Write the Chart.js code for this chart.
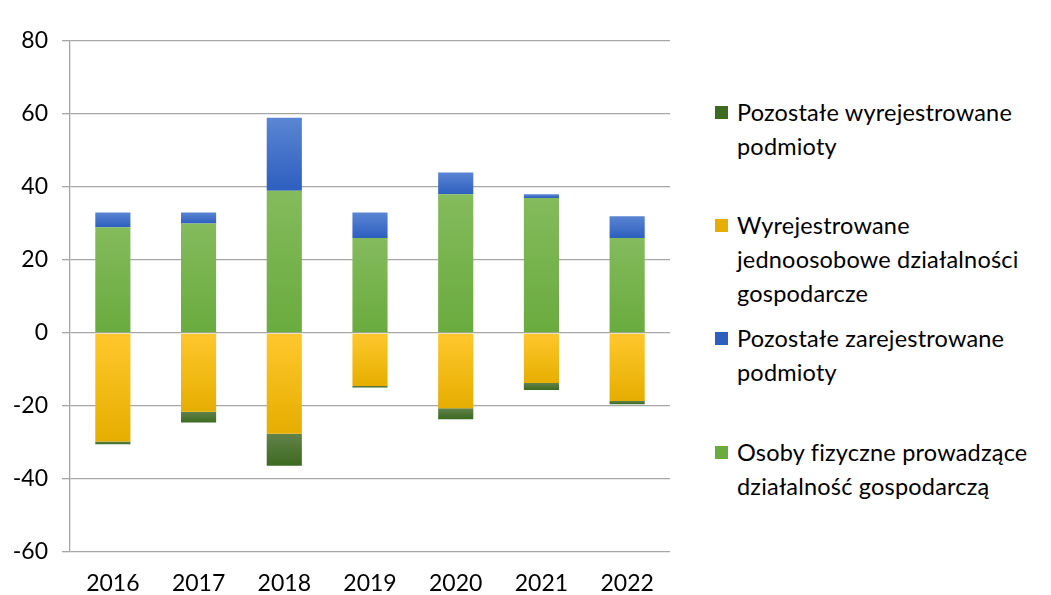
<!DOCTYPE html>
<html lang="pl">
<head>
    <meta charset="UTF-8">
    <title>Podmioty zarejestrowane i wyrejestrowane</title>
    <script src="https://cdn.jsdelivr.net/npm/chart.js"></script>
    <style>
        body {
            margin: 0;
            width: 1051px;
            height: 595px;
            background: #fff;
            font-family: Lato, "Noto Sans", sans-serif;
            position: relative;
            overflow: hidden;
        }
        .chart-box {
            position: absolute;
            left: 0;
            top: 0;
            width: 680px;
            height: 595px;
        }
        #legend .item {
            position: absolute;
            left: 715px;
            font-size: 23.5px;
            line-height: 34px;
            letter-spacing: 0.2px;
            color: #000;
            white-space: nowrap;
        }
        #legend .box {
            position: absolute;
            left: 0;
            top: 11px;
            width: 13px;
            height: 13px;
        }
        #legend .txt {
            margin-left: 22px;
        }
    </style>
</head>
<body>
    <div class="chart-box">
        <canvas id="myChart"></canvas>
    </div>
    <div id="legend"></div>

    <script>
        // data
        const years = ['2016', '2017', '2018', '2019', '2020', '2021', '2022'];
        const osobyFizyczne = [29, 30, 39, 26, 38, 37, 26];
        const pozostaleZarejestrowane = [4, 3, 20, 7, 6, 1, 6];
        const wyrejJednoosobowe = [-29.7, -21.6, -27.6, -14.5, -20.6, -13.7, -18.6];
        const pozostaleWyrejestrowane = [-0.8, -2.9, -8.8, -0.4, -3, -1.9, -0.9];
        const yTicks = [-60, -40, -20, 0, 20, 40, 60, 80];

        const seriesNames = [
            'Osoby fizyczne prowadzące działalność gospodarczą',
            'Pozostałe zarejestrowane podmioty',
            'Wyrejestrowane jednoosobowe działalności gospodarcze',
            'Pozostałe wyrejestrowane podmioty'
        ];
        // top colour, bottom colour of each bar's gradient
        const grads = [
            ['#84bb5c', '#6aab3e'],
            ['#5b85d4', '#2d5fbf'],
            ['#ffc72c', '#e6ae00'],
            ['#62824a', '#3c6a20']
        ];

        // legend text broken the same way as in the picture
        const legendLines = [
            ['Pozostałe wyrejestrowane', 'podmioty'],
            ['Wyrejestrowane', 'jednoosobowe działalności', 'gospodarcze'],
            ['Pozostałe zarejestrowane', 'podmioty'],
            ['Osoby fizyczne prowadzące', 'działalność gospodarczą']
        ];
        const legendOrder = [3, 2, 1, 0];
        const legendTops = [95, 208, 321, 435];

        // per-bar vertical gradient, set once the bars have their pixel positions
        const barGradient = {
            id: 'barGradient',
            afterDatasetsUpdate(chart) {
                const ctx = chart.ctx;
                chart.data.datasets.forEach((ds, di) => {
                    const meta = chart.getDatasetMeta(di);
                    meta.data.forEach(el => {
                        const top = Math.min(el.y, el.base);
                        const bot = Math.max(el.y, el.base);
                        const g = ctx.createLinearGradient(0, top, 0, bot);
                        g.addColorStop(0, grads[di][0]);
                        g.addColorStop(1, grads[di][1]);
                        el.options = Object.assign({}, el.options, { backgroundColor: g });
                    });
                });
            }
        };

        const datasets = [osobyFizyczne, pozostaleZarejestrowane, wyrejJednoosobowe, pozostaleWyrejestrowane]
            .map((vals, i) => ({
                label: seriesNames[i],
                data: vals,
                backgroundColor: grads[i][1],
                borderWidth: 0,
                barPercentage: 1,
                categoryPercentage: 0.41
            }));

        const ctx = document.getElementById('myChart').getContext('2d');
        const myChart = new Chart(ctx, {
            type: 'bar',
            data: { labels: years, datasets: datasets },
            plugins: [barGradient],
            options: {
                responsive: true,
                maintainAspectRatio: false,
                animation: false,
                layout: { padding: { left: 8, right: 10, top: 41, bottom: 0 } },
                plugins: {
                    legend: { display: false },
                    tooltip: { enabled: false }
                },
                scales: {
                    x: {
                        stacked: true,
                        grid: { display: false },
                        border: { display: false },
                        ticks: {
                            color: '#000',
                            padding: 10,
                            font: { family: 'Lato', size: 23 }
                        },
                        afterFit(s) { s.height = 43; }
                    },
                    y: {
                        stacked: true,
                        min: -60,
                        max: 80,
                        afterBuildTicks(s) { s.ticks = yTicks.map(v => ({ value: v })); },
                        grid: { color: '#a6a6a6', lineWidth: 1.3, tickLength: 8 },
                        border: { display: true, color: '#a6a6a6', width: 1.3 },
                        ticks: {
                            color: '#000',
                            padding: 14,
                            font: { family: 'Lato', size: 23 }
                        },
                        afterFit(s) { s.width = 62; }
                    }
                }
            }
        });

        // HTML legend with wrapped text
        const legendEl = document.getElementById('legend');
        legendOrder.forEach((di, k) => {
            const item = document.createElement('div');
            item.className = 'item';
            item.style.top = legendTops[k] + 'px';
            const box = document.createElement('span');
            box.className = 'box';
            box.style.background = grads[di][1];
            const txt = document.createElement('div');
            txt.className = 'txt';
            txt.innerHTML = legendLines[k].join('<br>');
            item.appendChild(box);
            item.appendChild(txt);
            legendEl.appendChild(item);
        });
    </script>
</body>
</html>
